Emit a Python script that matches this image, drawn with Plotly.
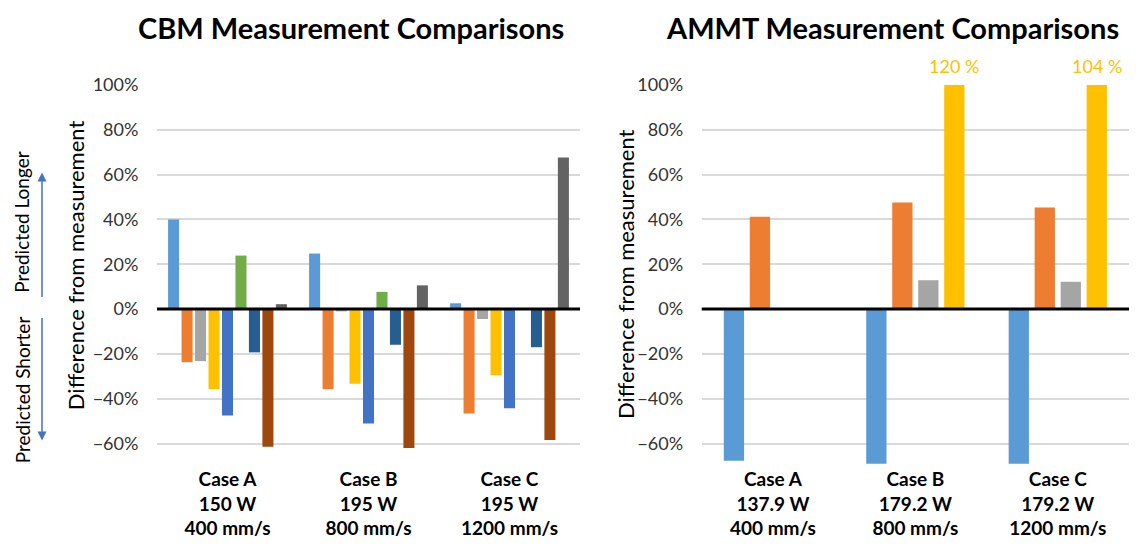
import plotly.graph_objects as go

# ---------------- data ----------------
cases = ["Case A", "Case B", "Case C"]
cbm_ticks = ["<b>Case A</b><br><b>150 W</b><br><b>400 mm/s</b>",
             "<b>Case B</b><br><b>195 W</b><br><b>800 mm/s</b>",
             "<b>Case C</b><br><b>195 W</b><br><b>1200 mm/s</b>"]
ammt_ticks = ["<b>Case A</b><br><b>137.9 W</b><br><b>400 mm/s</b>",
              "<b>Case B</b><br><b>179.2 W</b><br><b>800 mm/s</b>",
              "<b>Case C</b><br><b>179.2 W</b><br><b>1200 mm/s</b>"]

cbm_names = ["Model 1", "Model 2", "Model 3", "Model 4", "Model 5",
             "Model 6", "Model 7", "Model 8", "Model 9"]
cbm_s1 = [0.40, 0.248, 0.026]
cbm_s2 = [-0.237, -0.357, -0.466]
cbm_s3 = [-0.232, -0.010, -0.044]
cbm_s4 = [-0.357, -0.333, -0.295]
cbm_s5 = [-0.475, -0.510, -0.442]
cbm_s6 = [0.239, 0.077, None]
cbm_s7 = [-0.193, -0.159, -0.170]
cbm_s8 = [-0.614, -0.620, -0.584]
cbm_s9 = [0.022, 0.106, 0.677]
cbm_values = [cbm_s1, cbm_s2, cbm_s3, cbm_s4, cbm_s5, cbm_s6, cbm_s7, cbm_s8, cbm_s9]
cbm_colors = ["#5B9BD5", "#ED7D31", "#A5A5A5", "#FFC000", "#4472C4",
              "#70AD47", "#255E91", "#9E480E", "#636363"]

ammt_names = ["Model 1", "Model 2", "Model 3", "Model 4"]
ammt_s1 = [-0.677, -0.69, -0.69]
ammt_s2 = [0.412, 0.476, 0.453]
ammt_s3 = [None, 0.129, 0.122]
ammt_s4 = [None, 1.20, 1.04]
ammt_values = [ammt_s1, ammt_s2, ammt_s3, ammt_s4]
ammt_colors = ["#5B9BD5", "#ED7D31", "#A5A5A5", "#FFC000"]

y_ticks = [-0.6, -0.4, -0.2, 0, 0.2, 0.4, 0.6, 0.8, 1.0]
y_range = [-0.70, 1.0]

# ---------------- layout geometry (page pixel coordinates) ----------------
PAGE_W, PAGE_H = 1137, 547
BODY = 8                      # default body margin of the html page
W, H = PAGE_W - BODY, PAGE_H - BODY
PLOT_L, PLOT_R, PLOT_T, PLOT_B = 157, 1129, 85, 472   # page coords
ML, MT = PLOT_L - BODY, PLOT_T - BODY
MR = W - (PLOT_R - BODY)
MB = H - (PLOT_B - BODY)
PW, PH = PLOT_R - PLOT_L, PLOT_B - PLOT_T


def px_x(p):
    return (p - PLOT_L) / PW


def px_y(p):
    return (PLOT_B - p) / PH


fig = go.Figure()


def add_group(values, names, colors, xa, ya, bargap, groupgap):
    n = len(values)
    slot = (1 - bargap) / n
    width = slot * (1 - groupgap)
    for i, (vals, nm, col) in enumerate(zip(values, names, colors)):
        off = -(1 - bargap) / 2 + i * slot + (slot - width) / 2
        fig.add_trace(go.Bar(x=cases, y=vals, name=nm, marker_color=col,
                             marker_line_width=0, width=width, offset=off,
                             xaxis=xa, yaxis=ya, showlegend=False,
                             hovertemplate="%{x}: %{y:.0%}<extra></extra>"))
    return slot, width


add_group(cbm_values, cbm_names, cbm_colors, "x", "y", 0.14, 0.18)
a_gap = 0.27
a_slot, a_width = add_group(ammt_values, ammt_names, ammt_colors, "x2", "y2", a_gap, 0.22)

font_family = "Lato, 'Open Sans', sans-serif"
tick_font = dict(family=font_family, size=18, color="#333333")
cat_font = dict(family=font_family, size=19, color="#000000")

yax = dict(range=y_range, tickvals=y_ticks, tickformat=".0%", showgrid=True,
           gridcolor="#D9D9D9", gridwidth=2, zeroline=False, showline=False,
           ticks="outside", ticklen=14, tickcolor="rgba(0,0,0,0)",
           tickfont=tick_font, domain=[0, 1], fixedrange=True)

fig.update_layout(
    width=W, height=H,
    margin=dict(l=ML, r=MR, t=MT, b=MB),
    paper_bgcolor="white", plot_bgcolor="white",
    barmode="overlay",
    showlegend=False,
    xaxis=dict(domain=[0, px_x(580)], type="category", tickvals=cases,
               ticktext=cbm_ticks, showgrid=False, showline=False,
               tickfont=cat_font, ticks="", fixedrange=True),
    xaxis2=dict(domain=[px_x(701.7), 1], type="category", tickvals=cases,
                ticktext=ammt_ticks, showgrid=False, showline=False,
                tickfont=cat_font, ticks="", anchor="y2", fixedrange=True),
    yaxis=dict(**yax, anchor="x"),
    yaxis2=dict(**yax, anchor="x2"),
)

# zero lines
for xr, yr in (("x domain", "y"), ("x2 domain", "y2")):
    fig.add_shape(type="line", xref=xr, yref=yr, x0=0, x1=1, y0=0, y1=0,
                  line=dict(color="black", width=3), layer="above")

# titles
title_font = dict(family=font_family, size=29, color="black")
fig.add_annotation(text="<b>CBM Measurement Comparisons</b>", xref="paper", yref="paper",
                   x=px_x(350.5), y=px_y(27), showarrow=False, font=title_font,
                   xanchor="center", yanchor="middle")
fig.add_annotation(text="<b>AMMT Measurement Comparisons</b>", xref="paper", yref="paper",
                   x=px_x(892.5), y=px_y(27), showarrow=False, font=title_font,
                   xanchor="center", yanchor="middle")

# y titles
ytitle_font = dict(family=font_family, size=22, color="black")
fig.add_annotation(text="Difference from measurement", xref="paper", yref="paper",
                   x=px_x(75), y=px_y(268), textangle=-90, showarrow=False,
                   font=ytitle_font, xanchor="center", yanchor="middle")
fig.add_annotation(text="Difference from measurement", xref="paper", yref="paper",
                   x=px_x(625), y=px_y(277), textangle=-90, showarrow=False,
                   font=ytitle_font, xanchor="center", yanchor="middle")

# predicted longer / shorter
side_font = dict(family=font_family, size=19, color="black")
fig.add_annotation(text="Predicted Longer", xref="paper", yref="paper",
                   x=px_x(22), y=px_y(224), textangle=-90, showarrow=False,
                   font=side_font, xanchor="center", yanchor="middle")
fig.add_annotation(text="Predicted Shorter", xref="paper", yref="paper",
                   x=px_x(22), y=px_y(395), textangle=-90, showarrow=False,
                   font=side_font, xanchor="center", yanchor="middle")
fig.add_annotation(text="", xref="paper", yref="paper", x=px_x(42), y=px_y(174),
                   ax=0, ay=126, showarrow=True, arrowhead=2, arrowsize=1.2,
                   arrowwidth=1.5, arrowcolor="#4472C4")
fig.add_annotation(text="", xref="paper", yref="paper", x=px_x(42), y=px_y(446),
                   ax=0, ay=-124, showarrow=True, arrowhead=2, arrowsize=1.2,
                   arrowwidth=1.5, arrowcolor="#4472C4")

# labels for clipped bars (values beyond axis max)
last = len(ammt_values) - 1
center_off = -(1 - a_gap) / 2 + last * a_slot + a_slot / 2
for i, v in enumerate(ammt_s4):
    if v is not None and v > y_range[1]:
        fig.add_annotation(text=f"{round(v * 100)} %", xref="x2", yref="paper",
                           x=i + center_off, y=px_y(66), showarrow=False,
                           font=dict(family=font_family, size=18, color="#FFC000"),
                           xanchor="center", yanchor="middle")

fig.write_html("out.html")
